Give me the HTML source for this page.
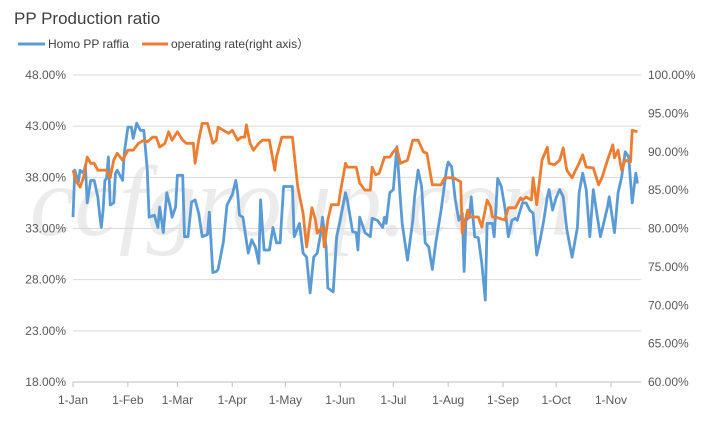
<!DOCTYPE html>
<html><head><meta charset="utf-8"><style>
body{margin:0;background:#fff;}
svg{display:block;font-family:"Liberation Sans",sans-serif;}
</style></head><body>
<svg id="chart" width="722" height="425">
<text x="14" y="24" font-size="17" fill="#404040">PP Production ratio</text>
<g>
<line x1="18" y1="44" x2="45" y2="44" stroke="#5b9bd5" stroke-width="3"/>
<text x="48" y="48" font-size="12" fill="#404040">Homo PP raffia</text>
<line x1="142" y1="44" x2="168" y2="44" stroke="#ed7d31" stroke-width="3"/>
<text x="171" y="48" font-size="12" fill="#404040">operating rate(right axis）</text>
</g>
<text x="30" y="235" font-size="100" font-style="italic" font-family="Liberation Serif,serif" fill="#ebebeb">ccfgroup.com</text>
<g id="grid"></g><g id="axes"></g><g id="series"></g>
</svg>
<script>
const xLabels=["1-Jan","1-Feb","1-Mar","1-Apr","1-May","1-Jun","1-Jul","1-Aug","1-Sep","1-Oct","1-Nov"];
const xLabelDays=[0,31,59,90,120,151,181,212,243,273,304];
const leftTicks=[18,23,28,33,38,43,48];
const rightTicks=[60,65,70,75,80,85,90,95,100];
const homoDays=[0,1,3,4,6,7,8,10,12,14,15,16,17,18,19,20,21,23,24,25,28,29,31,33,34,36,38,40,42,43,46,48,49,51,53,55,56,58,59,62,63,65,67,69,71,73,76,77,79,81,82,85,87,90,92,93,94,96,99,101,103,105,106,107,108,111,113,115,117,119,124,125,128,130,132,134,136,138,140,141,143,144,147,149,151,154,155,158,160,161,162,165,168,169,172,175,176,177,179,181,183,185,186,189,192,193,195,197,199,201,203,205,206,208,211,212,214,216,218,220,221,222,224,225,227,229,231,233,234,237,238,240,242,244,246,248,250,251,254,256,258,260,262,264,266,268,269,271,273,275,277,279,282,285,286,288,290,292,294,296,298,299,302,303,306,308,310,312,314,316,318,319];
const homoValues=[34.1,38.7,37.5,38.7,38.4,39.2,35.5,37.7,37.7,36.1,34.5,33.1,34.8,37.7,37.9,40.0,35.3,35.5,38.4,38.7,37.7,40.4,42.9,42.9,41.8,43.3,42.6,42.6,38.7,34.1,34.3,33.1,35.1,32.6,36.5,35.1,34.1,35.1,38.2,38.2,32.2,32.2,35.6,35.8,34.5,32.2,32.4,34.6,28.7,28.8,29.0,31.7,35.3,36.3,37.7,36.5,34.3,34.1,30.6,31.9,31.2,29.6,35.8,33.1,30.9,30.9,33.1,31.6,31.6,37.1,37.1,32.2,33.5,30.6,30.2,26.7,30.2,30.6,32.6,34.1,31.2,27.2,26.8,32.2,33.8,36.5,35.8,32.7,32.6,30.9,34.1,32.6,32.2,34.0,33.8,33.1,34.1,33.5,36.5,36.8,41.0,35.8,33.5,29.9,33.8,36.1,38.7,37.1,31.6,31.2,29.0,31.6,32.7,34.8,38.7,39.5,39.0,35.8,33.8,34.5,28.8,33.8,34.1,36.1,32.2,32.1,29.6,26.0,33.5,33.5,32.2,37.9,37.1,35.1,32.2,33.8,34.0,33.8,35.5,35.5,34.8,34.5,30.4,31.9,33.8,36.1,36.8,34.8,36.0,36.8,36.1,32.9,30.2,33.1,36.5,38.4,36.8,32.2,36.8,34.5,32.2,32.9,35.1,36.1,32.6,36.5,38.0,40.5,40.0,35.5,38.4,37.4];
const rateDays=[0,2,4,6,8,10,12,14,19,21,23,25,28,31,34,37,40,42,45,47,49,52,54,56,59,62,64,68,69,71,73,76,79,81,82,85,88,90,93,95,97,98,100,102,105,107,111,114,115,118,124,127,130,132,135,137,138,141,142,144,146,150,151,154,155,160,162,165,168,169,171,173,176,179,181,183,185,189,192,195,198,200,203,206,208,210,215,219,220,223,224,229,231,234,236,237,240,244,246,250,253,254,256,259,260,262,265,268,269,272,275,277,279,282,284,286,288,290,294,297,299,302,305,306,308,310,312,315,316,319];
const rateValues=[87.6,86.1,85.4,86.7,89.3,88.5,88.5,87.6,87.6,86.6,88.9,89.8,88.9,90.2,90.2,91.1,91.5,91.3,91.9,91.9,90.6,91.1,92.6,91.5,92.6,91.5,91.1,91.1,88.5,91.5,93.7,93.7,91.1,91.5,93.2,92.8,92.4,92.8,91.5,91.9,91.9,93.5,91.1,90.2,91.1,91.5,91.5,87.6,89.3,91.9,91.9,85.4,82.0,77.6,82.7,81.1,79.4,80.2,77.6,81.1,83.1,83.1,84.6,88.5,88.0,88.0,85.9,85.0,85.0,88.0,87.0,87.2,89.3,89.3,90.0,90.5,88.5,88.9,91.5,91.5,90.0,89.8,85.7,85.7,85.7,86.6,86.6,86.1,79.4,82.4,81.5,81.5,80.2,83.7,82.8,81.5,81.4,81.1,82.7,82.7,84.0,83.7,84.1,83.7,86.6,83.1,88.9,90.6,88.5,88.3,88.9,90.5,87.6,86.6,87.6,88.5,89.6,88.0,87.9,85.7,86.7,88.9,90.9,89.2,90.2,87.6,88.9,88.7,92.8,92.6];
const NS="http://www.w3.org/2000/svg";
const X0=73,X1=611,T=75,B=382;
const xS=d=>X0+d*(X1-X0)/304;
const yL=v=>B-(v-18)*(B-T)/30;
const yR=v=>B-(v-60)*(B-T)/40;
function mk(tag,attrs,parent){const e=document.createElementNS(NS,tag);for(const k in attrs)e.setAttribute(k,attrs[k]);parent.appendChild(e);return e;}
const grid=document.getElementById('grid'),axes=document.getElementById('axes'),series=document.getElementById('series');
leftTicks.forEach(v=>{
 const l=mk('line',{x1:X0,x2:641,y1:yL(v),y2:yL(v),stroke:v===18?'#bfbfbf':'#d9d9d9','stroke-width':1},grid);
 
 
 const t=mk('text',{x:66,y:yL(v)+4,'text-anchor':'end','font-size':12,fill:'#595959'},axes);
 t.textContent=v.toFixed(2)+'%';
 
 
});
rightTicks.forEach(v=>{
 const t=mk('text',{x:648,y:yR(v)+4,'font-size':12,fill:'#595959'},axes);
 t.textContent=v.toFixed(2)+'%';
 
 
});
xLabels.forEach((s,i)=>{
 const x=xS(xLabelDays[i]);
 const tk=mk('line',{x1:x,x2:x,y1:B,y2:B+5,stroke:'#bfbfbf'},axes);
 
 
 const t=mk('text',{x:x,y:404,'text-anchor':'middle','font-size':12,fill:'#595959'},axes);
 t.textContent=s;
 
 
});
const hp=mk('polyline',{points:homoDays.map((d,i)=>xS(d).toFixed(1)+','+yL(homoValues[i]).toFixed(1)).join(' '),fill:'none',stroke:'#5b9bd5','stroke-width':2.8,'stroke-linejoin':'round'},series);


const rp=mk('polyline',{points:rateDays.map((d,i)=>xS(d).toFixed(1)+','+yR(rateValues[i]).toFixed(1)).join(' '),fill:'none',stroke:'#ed7d31','stroke-width':2.8,'stroke-linejoin':'round'},series);


</script>
</body></html>
